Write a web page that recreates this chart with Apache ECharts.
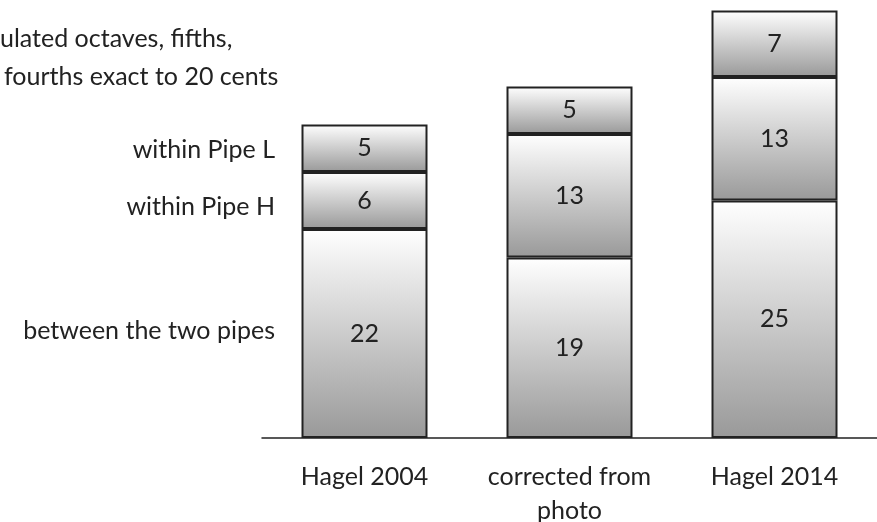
<!DOCTYPE html>
<html>
<head>
<meta charset="utf-8">
<script src="https://cdn.jsdelivr.net/npm/echarts@6/dist/echarts.min.js"></script>
<style>
html, body { margin: 0; padding: 0; background: #fff; }
#chart { width: 877px; height: 522px; }
</style>
</head>
<body>
<div id="chart"></div>
<script>
var categories = ['Hagel 2004', 'corrected from\nphoto', 'Hagel 2014'];
var betweenPipes = [22, 19, 25];
var withinPipeH = [6, 13, 13];
var withinPipeL = [5, 5, 7];
var sideLabels = ['between the two pipes', 'within Pipe H', 'within Pipe L'];

var font = 'Lato, sans-serif';
var fs = 25;
var fill = {
    type: 'linear', x: 0, y: 0, x2: 0, y2: 1,
    colorStops: [{offset: 0, color: '#ffffff'}, {offset: 1, color: '#999999'}]
};

function seg(name, data) {
    return {
        name: name,
        type: 'bar',
        stack: 'all',
        barWidth: 126,
        data: data,
        itemStyle: {color: fill, borderColor: '#222', borderWidth: 2},
        label: {
            show: true,
            position: 'inside',
            color: '#222',
            fontFamily: font,
            fontSize: fs
        }
    };
}

function sideText(txt, x, y, align) {
    return {
        type: 'text', x: x, y: y,
        style: {text: txt, font: fs + 'px ' + font, fill: '#222', align: align, verticalAlign: 'middle'}
    };
}

var chart = echarts.init(document.getElementById('chart'));
chart.setOption({
    animation: false,
    grid: {left: 262, right: 0, top: 10.5, bottom: 84, containLabel: false, outerBoundsMode: 'none'},
    xAxis: {
        type: 'category',
        data: categories,
        axisLine: {lineStyle: {color: '#222', width: 1.5}},
        axisTick: {show: false},
        axisLabel: {
            interval: 0,
            hideOverlap: false,
            color: '#222',
            fontFamily: font,
            fontSize: fs,
            margin: 22,
            lineHeight: 34
        }
    },
    yAxis: {
        type: 'value',
        min: 0,
        max: 45,
        show: false
    },
    graphic: [
        sideText('ulated octaves, fifths,', 0, 39, 'left'),
        sideText('fourths exact to 20 cents', 4, 77, 'left'),
        sideText(sideLabels[2], 275, 150, 'right'),
        sideText(sideLabels[1], 275, 207, 'right'),
        sideText(sideLabels[0], 275, 331, 'right')
    ],
    series: [
        seg(sideLabels[0], betweenPipes),
        seg(sideLabels[1], withinPipeH),
        seg(sideLabels[2], withinPipeL)
    ]
});
</script>
</body>
</html>
